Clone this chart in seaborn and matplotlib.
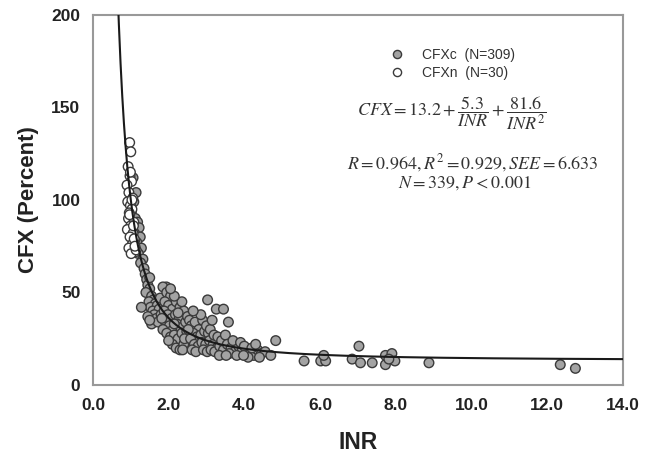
import numpy as np
import pandas as pd
import matplotlib
matplotlib.use("Agg")
import matplotlib.pyplot as plt
import seaborn as sns

# ---------------- data ----------------
cfxn_x = [0.97, 1.00, 0.93, 0.98, 1.02, 0.90, 0.95, 1.05, 0.92, 0.99, 1.03, 0.96, 0.94, 1.08, 1.00,
          0.91, 1.06, 0.98, 1.10, 1.04, 0.95, 1.12, 1.01, 1.07, 0.97, 1.09, 1.14, 1.03, 1.11, 0.99]
cfxn_y = [131, 126, 118, 113, 110, 108, 104, 101, 99, 97, 95, 93, 90, 88, 86,
          84, 82, 80, 78, 76, 74, 72, 71, 86, 92, 79, 73, 100, 75, 115]

cfxc_x = [1.02, 1.08, 1.12, 1.18, 1.22, 1.10, 1.25, 1.16, 1.28, 1.20, 1.32, 1.26, 1.35, 1.14, 1.06,
          1.38, 1.42, 1.45, 1.50, 1.40, 1.55, 1.60, 1.48, 1.65, 1.52, 1.70, 1.58, 1.75, 1.62, 1.45,
          1.68, 1.78, 1.55, 1.72, 1.80, 1.28, 1.50, 1.50, 1.94,
          1.85, 1.95, 2.05, 1.90, 2.00, 2.10, 2.20, 2.30, 1.88, 1.98, 2.08, 2.18, 2.28, 2.40, 1.92,
          2.02, 2.12, 2.22, 2.32, 2.45, 1.85, 1.95, 2.05, 2.15, 2.25, 2.35, 2.48, 2.10, 2.20, 2.30,
          2.40, 2.00, 2.42, 2.15, 2.25, 1.82, 2.50, 2.35, 2.15, 2.05, 2.37,
          2.55, 2.60, 2.70, 2.80, 2.65, 2.75, 2.85, 2.95, 3.05, 2.58, 2.68, 2.78, 2.88, 2.98, 3.08,
          3.18, 3.28, 2.62, 2.72, 2.92, 3.02, 3.12, 3.22, 3.35, 3.45, 2.90, 3.00, 3.10, 3.20, 3.30,
          3.40, 2.52, 3.03, 3.26, 3.45, 3.58, 2.85, 2.65, 3.15, 3.50, 3.34,
          3.55, 3.65, 3.75, 3.85, 3.95, 4.05, 4.15, 4.25, 4.35, 4.45, 3.60, 3.70, 3.80, 3.90, 4.00,
          4.10, 4.20, 4.30, 4.55, 4.70, 4.83, 3.98, 4.40, 3.52,
          5.58, 6.02, 6.15, 6.10, 6.85, 7.03, 7.07, 7.38, 7.73, 7.90, 7.73, 7.98, 7.82, 8.88,
          12.35, 12.75]
cfxc_y = [94, 99, 90, 88, 85, 82, 80, 77, 74, 71, 68, 66, 63, 104, 112,
          60, 57, 54, 52, 50, 48, 46, 45, 44, 42, 43, 40, 41, 38, 37,
          36, 47, 33, 34, 38, 42, 35, 58, 53,
          53, 50, 48, 45, 43, 41, 45, 42, 40, 38, 36, 38, 36, 40, 34,
          32, 30, 33, 31, 34, 30, 28, 26, 27, 25, 28, 29, 22, 20, 19,
          22, 24, 25, 33, 39, 36, 37, 45, 48, 52, 19,
          35, 32, 34, 30, 28, 26, 27, 29, 28, 25, 22, 21, 23, 22, 24,
          22, 20, 19, 18, 19, 18, 19, 18, 21, 19, 35, 32, 30, 27, 26,
          24, 30, 46, 41, 41, 34, 38, 40, 35, 27, 16,
          22, 20, 18, 21, 19, 17, 18, 16, 19, 17, 17, 24, 16, 23, 21,
          15, 20, 22, 18, 16, 24, 16, 15, 16,
          13, 13, 13, 16, 14, 21, 12, 12, 16, 17, 11, 13, 14, 12,
          11, 9]

# fitted model coefficients (from the equation shown)
fit_a, fit_b, fit_c = 13.2, 5.3, 81.6
x_ticks = [0, 2, 4, 6, 8, 10, 12, 14]
y_ticks = [0, 50, 100, 150, 200]
group_labels = ["CFXc  (N=309)", "CFXn  (N=30)"]

# ---------------- plotting ----------------
sns.set_theme(style="white")
plt.rcParams['font.family'] = ['Liberation Sans', 'DejaVu Sans']
plt.rcParams['mathtext.fontset'] = 'stix'

df = pd.DataFrame({
    "INR": cfxc_x + cfxn_x,
    "CFX": cfxc_y + cfxn_y,
    "group": [group_labels[0]] * len(cfxc_x) + [group_labels[1]] * len(cfxn_x),
})

fig = plt.figure(figsize=(6.5, 4.57), dpi=100)
ax = fig.add_axes([0.143, 0.1575, 0.815, 0.81])

sns.scatterplot(data=df, x="INR", y="CFX", hue="group",
                palette={group_labels[0]: "#a3a3a3", group_labels[1]: "white"},
                edgecolor="#3a3a3a", linewidth=1.0, s=48, ax=ax, zorder=2)

xc = np.linspace(0.64, 14, 600)
fit_df = pd.DataFrame({"INR": xc, "CFX": fit_a + fit_b / xc + fit_c / xc ** 2})
sns.lineplot(data=fit_df, x="INR", y="CFX", color="#1a1a1a", linewidth=1.5, ax=ax, zorder=3)

ax.set_xlim(0, 14)
ax.set_ylim(0, 200)
ax.set_xticks(x_ticks)
ax.set_xticklabels([f"{v:.1f}" for v in x_ticks])
ax.set_yticks(y_ticks)
ax.set_yticklabels([str(v) for v in y_ticks])
for lab in ax.get_xticklabels() + ax.get_yticklabels():
    lab.set_fontweight("bold")
    lab.set_fontsize(12.5)
    lab.set_color("#222222")
ax.tick_params(axis="both", direction="out", length=4, width=1.2, color="#888888", pad=5)
for sp in ax.spines.values():
    sp.set_color("#999999")
    sp.set_linewidth(1.5)

ax.set_xlabel("INR", fontsize=16.5, fontweight="bold", color="#222222", labelpad=13)
ax.set_ylabel("CFX (Percent)", fontsize=16, fontweight="bold", color="#222222", labelpad=9)

leg = ax.legend(loc="upper left", bbox_to_anchor=(0.560, 0.911), frameon=False,
                fontsize=10, handlelength=1.0, handletextpad=1.35, labelspacing=0.32,
                markerscale=0.85, borderaxespad=0, borderpad=0)
for t in leg.get_texts():
    t.set_color("#333333")

ax.text(0.677, 0.735, r"$CFX=13.2+\dfrac{5.3}{INR}+\dfrac{81.6}{INR^2}$",
        transform=ax.transAxes, ha="center", va="center", fontsize=13, color="#333333")
ax.text(0.717, 0.600, r"$R=0.964, R^2=0.929, SEE=6.633$",
        transform=ax.transAxes, ha="center", va="center", fontsize=13, color="#333333")
ax.text(0.702, 0.546, r"$N=339, P<0.001$",
        transform=ax.transAxes, ha="center", va="center", fontsize=13, color="#333333")

fig.savefig("out.png", dpi=100)
